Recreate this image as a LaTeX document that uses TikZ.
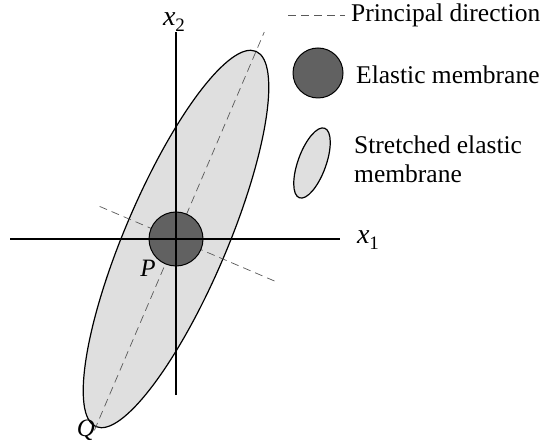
\documentclass[tikz,border=0pt]{standalone}
\usepackage{fontspec}
\setmainfont{Liberation Serif}
\usepackage{tikz}
\usetikzlibrary{positioning, calc}

\newcommand{\axvar}[1]{\textit{x}\raisebox{-6pt}{\fontsize{19}{22}\selectfont #1}}

\tikzset{
  axisline/.style={line width=1.6pt, black},
  princline/.style={gray!70!black, line width=0.7pt, dash pattern=on 8pt off 5pt},
  membrane/.style={fill=black!62, draw=black, line width=1pt},
  stretched/.style={fill=gray!25, draw=black, line width=1.2pt},
  lbl/.style={font=\fontsize{25.5}{29}\selectfont, anchor=west, inner sep=0pt},
  axlbl/.style={font=\fontsize{28}{32}\selectfont, inner sep=0pt},
  ptlbl/.style={font=\fontsize{25}{29}\selectfont\itshape, inner sep=0pt},
}

\begin{document}
\begin{tikzpicture}[x=1pt, y=1pt]
\useasboundingbox (0,0) rectangle (543,442);
% Origin of the axes
\coordinate (O) at (176,203);
% Stretched membrane and principal directions
\draw[stretched] (O) ellipse[x radius=204, y radius=51, rotate=66.9];
\coordinate (Q) at ($(O)+(246.9:208)$);
\coordinate (top) at ($(O)+(66.9:225)$);
\coordinate (mleft) at ($(O)+(156.9:83)$);
\coordinate (mright) at ($(O)+(-23.1:111)$);
\draw[princline] (Q) -- (top);
\draw[princline] (mleft) -- (mright);
% Elastic membrane
\draw[membrane] (O) circle[radius=27];
% Axes
\coordinate (x1a) at (10,203);
\coordinate (x1b) at (340,203);
\coordinate (x2a) at (176,47);
\coordinate (x2b) at (176,410);
\draw[axisline] (x1a) -- (x1b);
\draw[axisline] (x2a) -- (x2b);
\node[axlbl] (lx1) at (368,202) {\axvar{1}};
\node[axlbl] (lx2) at (174,420) {\axvar{2}};
\node[ptlbl] (lP) at (148,174) {P};
\node[ptlbl] (lQ) at (86,12) {Q};
% Legend
\coordinate (la) at (288,427);
\coordinate (lb) at (345,427);
\draw[princline] (la) -- (lb);
\node[lbl] (tprinc) at (351,427) {Principal direction};
\draw[membrane] (318,369) circle[radius=25];
\node[lbl] (telastic) at (356,367) {Elastic membrane};
\draw[stretched] (312,279) ellipse[x radius=37, y radius=14, rotate=70];
\node[lbl, align=left] (tstretch) at (354,283) {Stretched elastic\\membrane};
\end{tikzpicture}
\end{document}
